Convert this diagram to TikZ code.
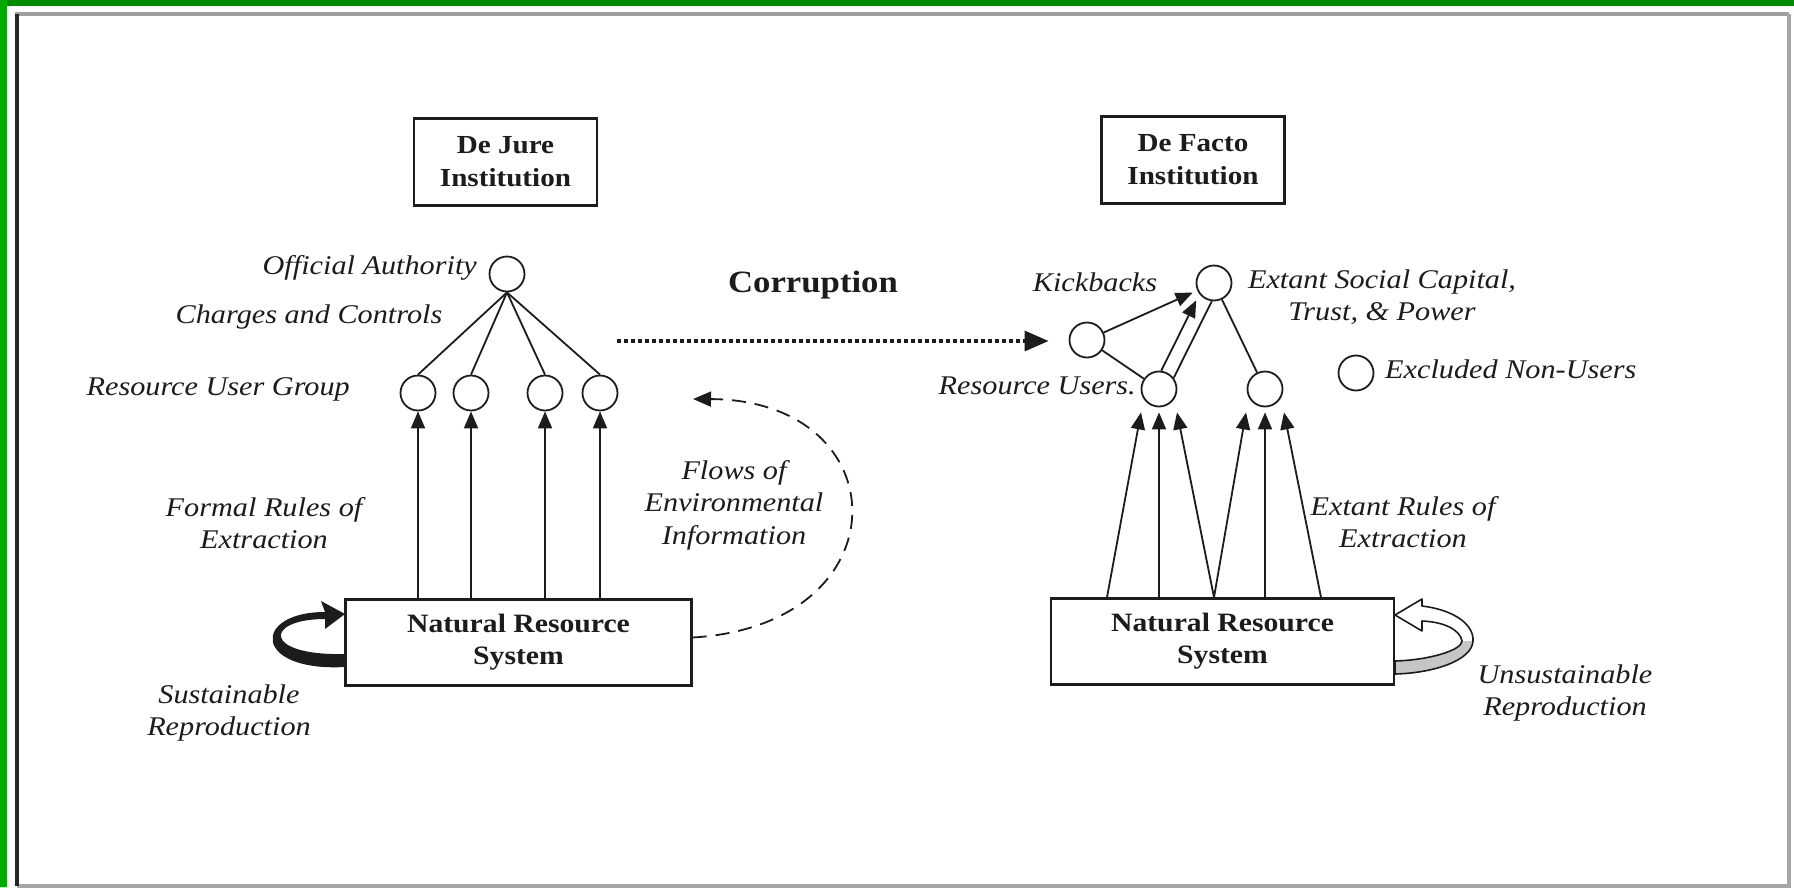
\documentclass[tikz,border=0pt]{standalone}
\usepackage{fontspec}
\setmainfont{Liberation Serif}[FakeStretch=1.12]
\usetikzlibrary{arrows.meta,calc}
\definecolor{gtop}{RGB}{0,140,0}
\definecolor{gleft}{RGB}{0,170,0}
\definecolor{ink}{RGB}{28,28,28}
\begin{document}
\begin{tikzpicture}[x=1pt,y=-1pt,
  inst/.style={draw=ink, line width=2.6pt, minimum width=183pt, minimum height=87pt, align=center, inner sep=0pt, text=ink, font=\fontsize{26}{33}\selectfont\bfseries},
  nrs/.style={draw=ink, line width=2.4pt, minimum width=346pt, minimum height=86pt, align=center, inner sep=0pt, text=ink, font=\fontsize{26.5}{32}\selectfont\bfseries},
  dot/.style={circle, draw=ink, line width=1.8pt, minimum size=35pt, inner sep=0pt},
  lab/.style={font=\fontsize{27}{32.5}\selectfont\itshape, text=ink, align=center, inner sep=0pt},
  corr/.style={font=\fontsize{31}{36}\selectfont\bfseries, text=ink, inner sep=0pt},
  link/.style={draw=ink, line width=1.8pt},
  arr/.style={link, -{Triangle[length=17pt,width=14pt]}},
]
\useasboundingbox (0,0) rectangle (1794,887);
% frame
\fill[white] (0,0) rectangle (1794,887);
\fill[gtop] (0,0) rectangle (1794,6);
\fill[gleft] (0,0) rectangle (7,887);
\draw[gray!75, line width=3.5pt] (15,14) -- (1789,14);
\draw[gray!70, line width=3.5pt] (1789,14) -- (1789,886) -- (17,886);
\draw[gray!30!black, line width=3.5pt] (17,14) -- (17,886);

% institution boxes
\node[inst] (dejure) at (505.5,162) {De Jure\\Institution};
\node[inst] (defacto) at (1193,160) {De Facto\\Institution};

% left graph
\node[dot] (A) at (507,274) {};
\node[dot] (U1) at (418,393) {};
\node[dot] (U2) at (471,393) {};
\node[dot] (U3) at (545,393) {};
\node[dot] (U4) at (600,393) {};
\node[nrs] (N1) at (518.5,642.5) {Natural Resource\\System};

\foreach \u in {U1,U2,U3,U4}{
  \draw[link] (A.south) -- (\u.north);
  \draw[arr] (\u |- N1.north) -- (\u.south);
}

% sustainable reproduction loop
\fill[ink] (345,667) .. controls (252,672) and (252,612) .. (325,612)
  -- (321,601) -- (345,614) -- (325,629) -- (325,619)
  .. controls (264,619) and (262,656) .. (345,654) -- cycle;

% flows of environmental information
\coordinate (fe) at (693,399);
\draw[link, dash pattern=on 14pt off 9pt, -{Triangle[length=18pt,width=15pt]}]
  ($(N1.east)+(0,-5)$) .. controls (905,625) and (900,400) .. (fe);

% right graph
\node[dot] (T) at (1214,283) {};
\node[dot] (K) at (1087,340) {};
\node[dot] (R1) at (1159,389) {};
\node[dot] (R2) at (1265,389) {};
\node[dot] (E) at (1356,373) {};
\node[nrs, minimum width=343pt] (N2) at (1222.5,641.5) {Natural Resource\\System};

\draw[arr, shorten >=5pt] (K) -- (T);
\draw[link] (K) -- (R1);
\draw[arr, shorten >=7pt] (R1.83) -- (T.217);
\draw[link] (R1.37) -- (T.263);
\draw[link] (T) -- (R2);

\draw[arr] ($(R1 |- N2.north)+(-52,0)$) -- ($(R1.south)+(-18,5)$);
\draw[arr] (R1 |- N2.north) -- ($(R1.south)+(0,5)$);
\draw[arr] (T |- N2.north) -- ($(R1.south)+(18,5)$);
\draw[arr] (T |- N2.north) -- ($(R2.south)+(-19,5)$);
\draw[arr] (R2 |- N2.north) -- ($(R2.south)+(0,5)$);
\draw[arr] ($(R2 |- N2.north)+(56,0)$) -- ($(R2.south)+(19,5)$);

% corruption arrow
\coordinate (cs) at (617,341);
\draw[ink, line width=3.2pt, dash pattern=on 4pt off 3pt, -{Triangle[length=24pt,width=20pt]}]
  (cs) -- ($(K.west)+(-20,1)$);

% unsustainable reproduction loop (hollow)
\fill[white] (1395,615) -- (1422,599) -- (1422,606)
  .. controls (1455,610) and (1474,625) .. (1473,641)
  .. controls (1472,660) and (1435,673) .. (1395,674)
  -- (1395,661) .. controls (1430,660) and (1462,650) .. (1462,641)
  .. controls (1460,630) and (1445,622) .. (1422,621) -- (1422,631) -- cycle;
\fill[gray!45] (1473,641) .. controls (1472,660) and (1435,673) .. (1395,674)
  -- (1395,661) .. controls (1430,660) and (1462,650) .. (1462,641) -- cycle;
\draw[ink, line width=1.6pt, line join=round] (1395,615) -- (1422,599) -- (1422,606)
  .. controls (1455,610) and (1474,625) .. (1473,641)
  .. controls (1472,660) and (1435,673) .. (1395,674)
  -- (1395,661) .. controls (1430,660) and (1462,650) .. (1462,641)
  .. controls (1460,630) and (1445,622) .. (1422,621) -- (1422,631) -- cycle;

% labels
\node[lab, anchor=east] (tOA) at (477,268) {Official Authority};
\node[lab] (tCC) at (309,317) {Charges and Controls};
\node[lab, anchor=east] (tRUG) at (350,389) {Resource User Group};
\node[lab] (tFR) at (264,523) {Formal Rules of\\Extraction};
\node[lab] (tSR) at (229,713) {Sustainable\\Reproduction};
\node[lab] (tFE) at (734,505) {Flows of\\Environmental\\Information};
\node[corr] (tC) at (813,285) {Corruption};
\node[lab] (tKB) at (1095,282) {Kickbacks};
\node[lab] (tES) at (1382,297) {Extant Social Capital,\\Trust, \& Power};
\node[lab, anchor=east] (tRU) at (1136,386) {Resource Users.};
\node[lab, anchor=west] (tEN) at (1385,369) {Excluded Non-Users};
\node[lab] (tER) at (1403,522) {Extant Rules of\\Extraction};
\node[lab] (tUR) at (1565,693) {Unsustainable\\Reproduction};
\end{tikzpicture}
\end{document}
